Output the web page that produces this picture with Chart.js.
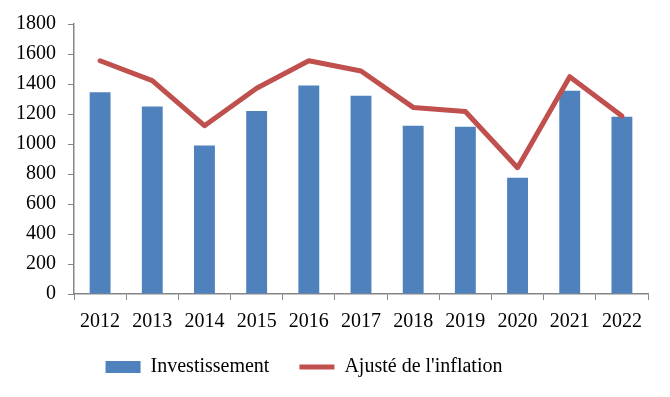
<!DOCTYPE html>
<html>
<head>
<meta charset="utf-8">
<script src="https://cdn.jsdelivr.net/npm/chart.js@4/dist/chart.umd.min.js"></script>
<style>
  html, body { margin: 0; padding: 0; background: #fff; }
  #wrap { width: 670px; height: 397px; }
</style>
</head>
<body>
<div id="wrap"><canvas id="bar"></canvas></div>
<script>
// valeurs
const annees = ["2012", "2013", "2014", "2015", "2016", "2017", "2018", "2019", "2020", "2021", "2022"];
const investissement = [1345, 1250, 990, 1220, 1390, 1322, 1122, 1115, 775, 1355, 1182];
const ajuste = [1555, 1422, 1122, 1372, 1555, 1487, 1244, 1217, 842, 1449, 1186];

const axisGray = "#868686";
const police = "'Liberation Serif', 'DejaVu Serif', serif";

// la légende est un peu décalée (gauche / haut) dans l'original
const decaleLegende = {
  id: "decaleLegende",
  afterLayout(chart) {
    chart.legend.left -= 22;
    chart.legend.right -= 22;
    chart.legend.top -= 17;
    chart.legend.bottom -= 17;
  },
};

let ctx = document.getElementById("bar");
let config = {
  type: "bar",
  data: {
    labels: annees,
    datasets: [
      {
        label: "Investissement",
        data: investissement,
        backgroundColor: "#4F81BD",
        borderWidth: 0,
        barPercentage: 0.4,
        categoryPercentage: 1.0,
        pointStyle: "rect",
        order: 1,
      },
      {
        type: "line",
        label: "Ajusté de l'inflation",
        data: ajuste,
        borderColor: "#C0504D",
        backgroundColor: "#C0504D",
        borderWidth: 5,
        borderCapStyle: "round",
        borderJoinStyle: "round",
        pointRadius: 0,
        pointStyle: "line",
        tension: 0,
        order: 0,
      },
    ],
  },
  options: {
    responsive: true,
    maintainAspectRatio: false,
    animation: false,
    layout: { padding: { left: 4, right: 22, top: 12, bottom: -7 } },
    scales: {
      x: {
        grid: {
          offset: true,
          drawOnChartArea: false,
          drawTicks: true,
          tickLength: 6,
          color: axisGray,
        },
        border: { color: axisGray, width: 1.5 },
        ticks: {
          color: "#000",
          font: { family: police, size: 20 },
          padding: 10,
          maxRotation: 0,
        },
      },
      y: {
        min: 0,
        max: 1800,
        grid: {
          drawOnChartArea: false,
          drawTicks: true,
          tickLength: 6,
          color: axisGray,
        },
        border: { color: axisGray, width: 1.5 },
        ticks: {
          stepSize: 200,
          color: "#000",
          font: { family: police, size: 20 },
          padding: 12,
          callback: (v) => String(v),
        },
      },
    },
    plugins: {
      legend: {
        position: "bottom",
        labels: {
          color: "#000",
          font: { family: police, size: 20 },
          usePointStyle: true,
          pointStyleWidth: 35,
          boxHeight: 12,
          padding: 30,
          sort: (a, b) => a.datasetIndex - b.datasetIndex,
        },
      },
      tooltip: { enabled: false },
    },
  },
  plugins: [decaleLegende],
};
new Chart(ctx, config);
</script>
</body>
</html>
